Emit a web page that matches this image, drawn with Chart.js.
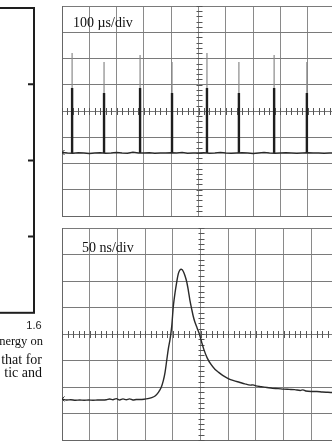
<!DOCTYPE html>
<html><head><meta charset="utf-8">
<script src="https://cdn.jsdelivr.net/npm/chart.js@4/dist/chart.umd.min.js"></script>
<style>
html,body{margin:0;padding:0;background:#fff;width:332px;height:443px;overflow:hidden;position:relative}
canvas{position:absolute}
.t{position:absolute;white-space:nowrap;font-family:"Liberation Serif","Times New Roman",serif;color:#111}
</style></head><body>
<canvas id="leftChart" width="250" height="340" style="left:-200px;top:0px"></canvas>
<canvas id="topChart" width="277" height="214" style="left:60px;top:4px"></canvas>
<canvas id="botChart" width="281" height="216" style="left:60px;top:226px"></canvas>
<div class="t" style="left:73px;top:16px;font-size:14px;line-height:14px">100 µs/div</div>
<div class="t" style="left:82px;top:241px;font-size:14px;line-height:14px">50 ns/div</div>
<div class="t" style="left:-100px;width:143px;text-align:right;top:335px;font-size:12.5px;line-height:12px">energy on</div>
<div class="t" style="left:-100px;width:142px;text-align:right;top:353px;font-size:14px;line-height:14px">that for</div>
<div class="t" style="left:-100px;width:142px;text-align:right;top:366px;font-size:14px;line-height:14px">tic and</div>
<script>
// ---- left (clipped) neighbouring chart ----
const leftXTicks = ['0.0', '0.4', '0.8', '1.2', '1.6'];
const leftYTicks = ['0', '1', '2', '3', '4'];

// ---- top trace: 100 µs/div ----
const topTimeUs = [0,20,40,60,80,100,120,140,160,180,200,220,240,260,280,300,320,340,360,380,400,420,440,460,480,500,520,540,560,580,600,620,640,660,680,700,720,740,760,780,800,820,840,860,880,900,920,940,960,980,1000];
const topLevel  = [-1.58,-1.60,-1.61,-1.59,-1.60,-1.62,-1.60,-1.59,-1.61,-1.60,-1.58,-1.60,-1.61,-1.57,-1.60,-1.60,-1.59,-1.61,-1.60,-1.60,-1.59,-1.60,-1.58,-1.61,-1.60,-1.60,-1.59,-1.61,-1.60,-1.58,-1.60,-1.61,-1.60,-1.59,-1.60,-1.62,-1.60,-1.58,-1.60,-1.61,-1.60,-1.59,-1.60,-1.61,-1.60,-1.59,-1.60,-1.60,-1.61,-1.60,-1.60];
const spikeTimeUs = [37, 154, 286, 403, 531, 648, 777, 897];
const spikePeak   = [2.21, 1.87, 2.13, 1.87, 2.21, 1.87, 2.13, 1.87];
const spikeCore   = [0.88, 0.69, 0.88, 0.69, 0.88, 0.69, 0.88, 0.69];
const spikeFoot   = -1.60;

// ---- bottom trace: 50 ns/div ----
const botTimeNs = [0,8,16,24,32,40,48,56,64,72,80,86,92,98,104,110,116,122,128,134,140,148,155,162,168,174,179,183,186,189,192,195,198,201,204,207,210,213,216,219,222,225,228,231,234,237,240,244,248,252,256,262,269,276,283,290,300,310,320,330,340,345,350,360,370,380,390,400,410,420,430,435,440,450,460,470,480,490,500];
const botLevel  = [-2.45,-2.49,-2.48,-2.50,-2.49,-2.50,-2.49,-2.50,-2.49,-2.49,-2.48,-2.45,-2.48,-2.44,-2.49,-2.45,-2.48,-2.45,-2.49,-2.47,-2.47,-2.46,-2.44,-2.40,-2.34,-2.20,-2.02,-1.75,-1.45,-1.00,-0.55,-0.20,0.28,1.05,1.55,1.95,2.28,2.42,2.44,2.36,2.20,1.98,1.65,1.26,0.95,0.66,0.44,0.22,0.00,-0.30,-0.58,-0.90,-1.15,-1.33,-1.45,-1.56,-1.68,-1.76,-1.82,-1.88,-1.93,-1.92,-1.96,-1.99,-2.02,-2.05,-2.06,-2.08,-2.09,-2.10,-2.13,-2.11,-2.15,-2.17,-2.17,-2.19,-2.20,-2.21,-2.22];

const TRACE = '#2a2a2a';

const framePlugin = {
  id: 'frame',
  afterDraw(chart) {
    const a = chart.chartArea, ctx = chart.ctx, ys = chart.scales.y;
    ctx.save();
    ctx.strokeStyle = '#1e1e1e';
    ctx.lineWidth = 2;
    ctx.strokeRect(a.left, a.top, a.right - a.left, a.bottom - a.top);
    ctx.beginPath();
    ys.ticks.forEach((t, i) => {
      if (i === 0 || i === ys.ticks.length - 1) return;
      const py = ys.getPixelForValue(t.value);
      ctx.moveTo(a.right - 6, py);
      ctx.lineTo(a.right, py);
    });
    ctx.stroke();
    ctx.restore();
  }
};

new Chart(document.getElementById('leftChart'), {
  type: 'scatter',
  data: { datasets: [] },
  options: {
    responsive: false, animation: false,
    layout: { autoPadding: false, padding: { top: 8, right: 16, left: 0, bottom: 0 } },
    plugins: { legend: { display: false }, tooltip: { enabled: false } },
    scales: {
      x: { type: 'linear', min: 0, max: 1.6,
           ticks: { stepSize: 0.4, padding: 7, color: '#222',
                    font: { family: '"Liberation Sans", Arial, sans-serif', size: 11 },
                    callback: (v, i) => leftXTicks[i] },
           grid: { display: false, drawTicks: false },
           border: { display: false } },
      y: { type: 'linear', min: 0, max: 4,
           ticks: { stepSize: 1, color: '#222', font: { size: 8 }, callback: (v, i) => leftYTicks[i] },
           grid: { display: false, drawTicks: false },
           border: { display: false } }
    }
  },
  plugins: [framePlugin]
});

function centreAxesPlugin(xStep, yStep) {
  return {
    id: 'centreAxes',
    beforeDatasetsDraw(chart) {
      const xs = chart.scales.x, ys = chart.scales.y, ctx = chart.ctx;
      const cx = Math.round(xs.getPixelForValue((xs.min + xs.max) / 2)) + 0.5;
      const cy = Math.round(ys.getPixelForValue(0)) + 0.5;
      ctx.save();
      ctx.strokeStyle = '#555';
      ctx.lineWidth = 1;
      ctx.beginPath();
      for (let v = xs.min; v <= xs.max + 1e-9; v += xStep) {
        const px = Math.round(xs.getPixelForValue(v)) + 0.5;
        ctx.moveTo(px, cy - 3.5); ctx.lineTo(px, cy + 3.5);
      }
      for (let v = ys.min; v <= ys.max + 1e-9; v += yStep) {
        const py = Math.round(ys.getPixelForValue(v)) + 0.5;
        ctx.moveTo(cx - 3, py); ctx.lineTo(cx + 3, py);
      }
      ctx.stroke();
      ctx.restore();
    }
  };
}

function scopeScales(xMax, xStep) {
  return {
    x: { type: 'linear', min: 0, max: xMax,
         ticks: { display: false, stepSize: xStep },
         grid: { drawTicks: false, color: '#8a8a8a', lineWidth: 1 },
         border: { display: true, color: '#666' } },
    y: { type: 'linear', min: -4, max: 4,
         ticks: { display: false, stepSize: 1 },
         grid: { drawTicks: false, color: '#7a7a7a', lineWidth: 1 },
         border: { display: true, color: '#666' } }
  };
}

const topTrace = topTimeUs.map((t, i) => ({ x: t, y: topLevel[i] }));
const spikeThin = [], spikeThick = [];
spikeTimeUs.forEach((t, i) => {
  spikeThin.push({ x: t, y: spikeFoot }, { x: t, y: spikePeak[i] }, { x: t, y: null });
  spikeThick.push({ x: t, y: spikeFoot }, { x: t, y: spikeCore[i] }, { x: t, y: null });
});

new Chart(document.getElementById('topChart'), {
  type: 'scatter',
  data: { datasets: [
    { data: topTrace, showLine: true, borderColor: TRACE, borderWidth: 1.6, tension: 0,
      pointRadius: c => c.dataIndex === 0 ? 3.5 : 0, pointStyle: 'crossRot',
      pointBorderColor: TRACE, pointBorderWidth: 1 },
    { data: spikeThick, showLine: true, spanGaps: false, borderColor: '#1e1e1e', borderWidth: 2.4, pointRadius: 0 },
    { data: spikeThin, showLine: true, spanGaps: false, borderColor: '#8a8a8a', borderWidth: 1.2, pointRadius: 0 }
  ]},
  options: {
    responsive: false, animation: false,
    layout: { autoPadding: false, padding: 2 },
    plugins: { legend: { display: false }, tooltip: { enabled: false } },
    scales: scopeScales(1000, 100)
  },
  plugins: [centreAxesPlugin(20, 0.2)]
});

const botTrace = botTimeNs.map((t, i) => ({ x: t, y: botLevel[i] }));
new Chart(document.getElementById('botChart'), {
  type: 'scatter',
  data: { datasets: [
    { data: botTrace, showLine: true, borderColor: TRACE, borderWidth: 1.4, tension: 0.3,
      pointRadius: c => c.dataIndex === 0 ? 3.5 : 0, pointStyle: 'crossRot',
      pointBorderColor: TRACE, pointBorderWidth: 1 }
  ]},
  options: {
    responsive: false, animation: false,
    layout: { autoPadding: false, padding: 2 },
    plugins: { legend: { display: false }, tooltip: { enabled: false } },
    scales: scopeScales(500, 50)
  },
  plugins: [centreAxesPlugin(10, 0.2)]
});
</script>
</body></html>
